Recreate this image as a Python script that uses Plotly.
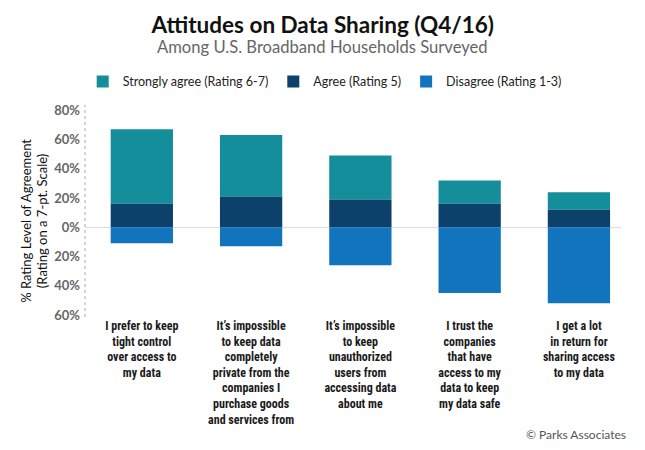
import plotly.graph_objects as go

categories = [
    "I prefer to keep<br>tight control<br>over access to<br>my data",
    "It\u2019s impossible<br>to keep data<br>completely<br>private from the<br>companies I<br>purchase goods<br>and services from",
    "It\u2019s impossible<br>to keep<br>unauthorized<br>users from<br>accessing data<br>about me",
    "I trust the<br>companies<br>that have<br>access to my<br>data to keep<br>my data safe",
    "I get a lot<br>in return for<br>sharing access<br>to my data",
]
agree = [16, 21, 19, 16, 12]
strongly_agree = [51, 42, 30, 16, 12]
disagree = [11, 13, 26, 45, 52]

tick_vals = [-60, -40, -20, 0, 20, 40, 60, 80]
tick_text = ["60%", "40%", "20%", "0%", "20%", "40%", "60%", "80%"]

C_STRONG = "#158E9B"
C_AGREE = "#0C416B"
C_DIS = "#1174BD"

x = list(range(len(categories)))
fig = go.Figure()
fig.add_trace(go.Bar(x=x, y=strongly_agree, base=agree, name="Strongly agree (Rating 6-7)",
                     marker=dict(color=C_STRONG, line=dict(width=0))))
fig.add_trace(go.Bar(x=x, y=agree, name="Agree (Rating 5)",
                     marker=dict(color=C_AGREE, line=dict(width=0))))
fig.add_trace(go.Bar(x=x, y=[-v for v in disagree], name="Disagree (Rating 1-3)",
                     marker=dict(color=C_DIS, line=dict(width=0))))

FONT = "Lato, 'Open Sans', sans-serif"
NARROW = "'Liberation Sans Narrow', 'Roboto Condensed', 'DejaVu Sans Condensed', sans-serif"

W, H = 645, 450
OFF = 8  # page body margin offsets the figure on screen
# plot area on screen (reference pixels)
SX0, SX1, SY0, SY1 = 85.3, 621.0, 105.0, 316.7
L = SX0 - OFF
R = W - (SX1 - OFF)
T = SY0 - OFF
B = H - (SY1 - OFF)
PW = W - L - R
PH = H - T - B


def px(xs):
    return (xs - OFF - L) / PW


def py(ys):
    return (H - B - (ys - OFF)) / PH


fig.update_layout(
    width=W, height=H,
    barmode="overlay",
    bargap=0.43,
    plot_bgcolor="white", paper_bgcolor="white",
    margin=dict(l=L, r=R, t=T, b=B, pad=0, autoexpand=False),
    font=dict(family=FONT, color="#222"),
    showlegend=True,
    legend=dict(orientation="h", x=px(83), xanchor="left", y=py(82), yanchor="middle",
                font=dict(family=FONT, size=12.5, color="#222"), traceorder="normal",
                itemclick=False),
    xaxis=dict(range=[-0.52, 4.385], tickmode="array", tickvals=x, ticktext=categories,
               tickfont=dict(family=NARROW, size=12, color="#1a1a1a", weight="bold"),
               showgrid=False, zeroline=False, showline=False, ticks=""),
    yaxis=dict(range=[-61.4, 83.6], tickmode="array", tickvals=tick_vals, ticktext=tick_text,
               tickfont=dict(family=FONT, size=13, color="#666", weight="bold"),
               showgrid=False, zeroline=True, zerolinecolor="#dddddd", zerolinewidth=1,
               showline=False, ticks="", ticklabelstandoff=4),
    title=dict(text="<b>Attitudes on Data Sharing (Q4/16)</b>", xref="paper", x=px(323),
               xanchor="center", yref="container", y=(H - (25 - OFF)) / H, yanchor="middle",
               font=dict(family=FONT, size=22.5, color="#111")),
    annotations=[
        dict(text="Among U.S. Broadband Households Surveyed", xref="paper", yref="paper",
             x=px(323), y=py(47), xanchor="center", yanchor="middle",
             showarrow=False, font=dict(family=FONT, size=16.6, color="#666")),
        dict(text="% Rating Level of Agreement<br>(Rating on a 7-pt. Scale)", xref="paper", yref="paper",
             x=px(34), y=py(221), xanchor="center", yanchor="middle",
             textangle=-90, showarrow=False, font=dict(family=FONT, size=13, color="#111")),
        dict(text="\u00a9 Parks Associates", xref="paper", yref="paper",
             x=px(628), y=py(434), xanchor="right", yanchor="middle",
             showarrow=False, font=dict(family=FONT, size=12, color="#555")),
    ],
    shapes=[dict(type="line", xref="paper", yref="paper", x0=0, x1=0, y0=0, y1=1,
                 line=dict(color="#aaaaaa", width=1, dash="dot"))],
)

fig.write_html("out.html")
